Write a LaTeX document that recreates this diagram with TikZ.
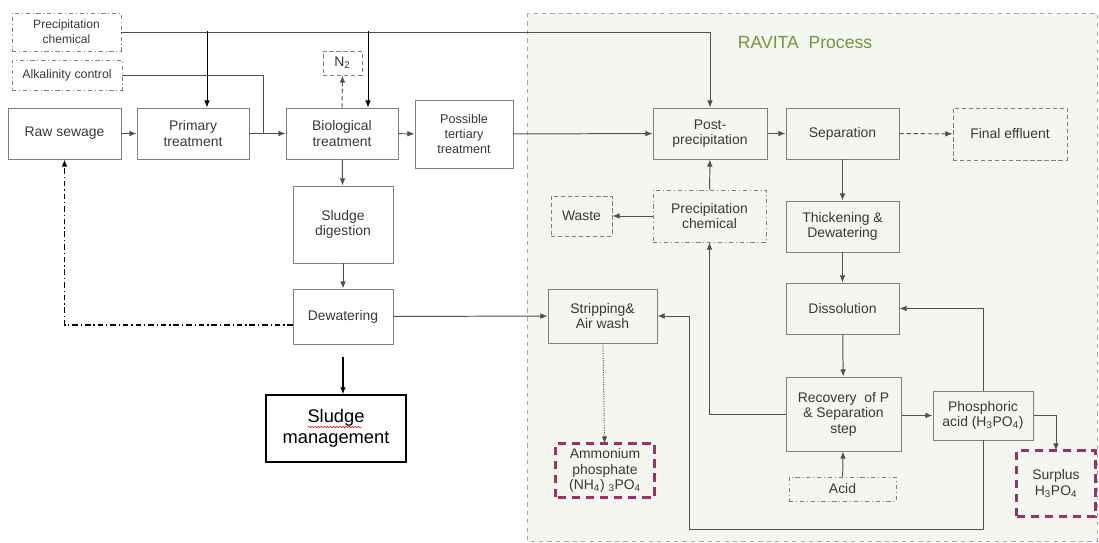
\documentclass[tikz,border=0pt]{standalone}
\usepackage{fontspec}
\setmainfont{Liberation Sans}
\usepackage{tikz}
\usetikzlibrary{arrows.meta,decorations.pathmorphing}

\definecolor{boxgray}{HTML}{7F7F7F}
\definecolor{txtgray}{HTML}{383838}
\definecolor{linegray}{HTML}{505050}
\definecolor{ravfill}{HTML}{F4F6F0}
\definecolor{ravgreen}{HTML}{77933C}
\definecolor{surpurple}{HTML}{993366}

\tikzstyle{box}=[draw=boxgray, line width=0.7pt, text=txtgray, align=center, inner sep=1pt,
  font=\fontsize{9.9}{11}\selectfont]
\tikzstyle{boxdd}=[box, dash dot]
\tikzstyle{boxdash}=[box, densely dashed]
\tikzstyle{product}=[box, draw=none]
\tikzstyle{productline}=[draw=surpurple, line width=1.8pt, dash pattern=on 6pt off 4pt]
\tikzstyle{flow}=[draw=linegray, line width=0.7pt, -{Latex[length=5pt,width=4pt]}]
\tikzstyle{feed}=[draw=linegray, line width=0.7pt]
\tikzstyle{ret}=[flow, draw=black, line width=1.1pt, dash pattern=on 4pt off 2pt on 1pt off 2pt]
% box size in pixel-ish units
\tikzset{wh/.style 2 args={minimum width=#1*0.025cm, minimum height=#2*0.025cm}}

\begin{document}
\begin{tikzpicture}[x=0.025cm, y=-0.025cm]
	\useasboundingbox (0,0) rectangle (1099,543);

	% recovery area
	\draw[dashed, draw=gray!70, fill=ravfill] (527,13) rectangle (1097,541);
	\node[text=ravgreen, font=\fontsize{12.5}{14}\selectfont, anchor=west] (ravita) at (733,43) {RAVITA\ \ Process};

	\begin{scope}
		% treatment line
		\node (pchem) at (66.5,32) [boxdd, wh={109}{38}, font=\fontsize{8.6}{10.5}\selectfont] {Precipitation\\chemical};
		\node (alk) at (67,75) [boxdd, wh={110}{30}, font=\fontsize{8.8}{10}\selectfont] {Alkalinity control};
		\node (raw) at (64.5,133.5) [box, wh={113}{51}] {Raw sewage};
		\node (prim) at (193,133.5) [box, wh={112}{51}] {Primary\\treatment};
		\node (bio) at (342,133.5) [box, wh={112}{51}] {Biological\\treatment};
		\node (n2) at (342.5,63) [boxdash, wh={39}{24}] {N\textsubscript{2}};
		\node (tert) at (464,134) [box, wh={98}{68}, font=\fontsize{9}{10.5}\selectfont] {Possible\\tertiary\\treatment};
		\node (dig) at (343,224.5) [box, wh={100}{77}] {Sludge\\digestion};
		\node (dew) at (343,316.5) [box, wh={100}{55}] {Dewatering};
		\node (sludge) at (336,428.5) [box, draw=black, line width=1pt, text=black, wh={140}{67},
			font=\fontsize{13}{15}\selectfont] {Sludge\\management};
	\end{scope}

	\begin{scope}
		% RAVITA units
		\node (post) at (710,133.5) [box, wh={114}{51}] {Post-\\precipitation};
		\node (sep) at (842.5,133.5) [box, wh={113}{51}] {Separation};
		\node (eff) at (1010,134) [boxdash, wh={114}{52}] {Final effluent};
		\node (pchemr) at (709.5,216) [boxdd, wh={113}{52}] {Precipitation\\chemical};
		\node (waste) at (581.5,216) [boxdash, wh={61}{40}] {Waste};
		\node (thick) at (842.5,226.5) [box, wh={113}{51}] {Thickening \&\\Dewatering};
		\node (diss) at (842.5,308.5) [box, wh={113}{51}] {Dissolution};
		\node (strip) at (602.5,316) [box, wh={109}{54}] {Stripping\&\\Air wash};
		\node (amm) at (605,470.5) [product, wh={98}{53}] {Ammonium\\phosphate\\(NH\textsubscript{4}) \textsubscript{3}PO\textsubscript{4}};
		\node (rec) at (843.5,414) [box, wh={115}{74}] {Recovery\ \ of P\\\& Separation\\step};
		\node (phos) at (983,415.5) [box, wh={100}{49}] {Phosphoric\\acid (H\textsubscript{3}PO\textsubscript{4})};
		\node (acid) at (842.5,489) [boxdd, wh={107}{24}] {Acid};
		\node (surp) at (1056,483.5) [product, wh={78}{65}] {Surplus\\H\textsubscript{3}PO\textsubscript{4}};
		% purple outlines of the products
		\draw [productline] (amm.south west) rectangle (amm.north east);
		\draw [productline] (surp.south west) rectangle (surp.north east);
	\end{scope}

	% spell-check mark under the sludge label
	\draw[red!85!black, line width=0.35pt, decorate, decoration={snake, amplitude=0.5pt, segment length=2.2pt}]
		(308,427) -- (362,427);

	\begin{scope}
		\coordinate (dprim) at (207,31);
		\coordinate (dbio) at (368,31);
		\coordinate (alkj) at (263,133.5);
		\coordinate (dewl) at (293,325);
		\coordinate (loop) at (689,529);

		\draw [flow] (pchem.east) -| (post.north);
		\draw [flow, draw=black] (dprim) -- (dprim |- prim.north);
		\draw [flow, draw=black] (dbio) -- (dbio |- bio.north);
		\draw [feed] (alk.east) -| (alkj);
		\draw [flow] (raw) -- (prim);
		\draw [flow] (prim) -- (bio);
		\draw [flow, densely dashed] (bio.north) -- (n2.south);
		\draw [flow] (bio) -- (tert);
		\draw [flow] (tert) -- (post);
		\draw [flow] (post) -- (sep);
		\draw [flow, densely dashed] (sep) -- (eff);
		\draw [flow] (bio) -- (dig);
		\draw [flow] (dig) -- (dew);
		\draw [ret] (dewl) -| (raw.south);
		\draw [flow] (dew) -- (strip);
		\draw [flow, line width=0.9pt, draw=black, shorten <=0.32cm] (dew.south) -- (dew.south |- sludge.north);
		\draw [flow, densely dotted] (strip) -- (amm);

		\draw [flow] (pchemr) -- (post);
		\draw [flow] (pchemr) -- (waste);
		\draw [flow] (sep) -- (thick);
		\draw [flow] (thick) -- (diss);
		\draw [flow] (diss) -- (rec);
		\draw [flow] (rec.west) -| (pchemr.south);
		\draw [flow] (acid) -- (rec);
		\draw [flow] (rec.east |- phos.west) -- (phos.west);
		\draw [flow] (phos.north) |- (diss.east);
		\draw [flow] (phos.south) |- (loop) |- (strip.east);
		\draw [flow] (phos.east) -| (surp.north);
	\end{scope}
\end{tikzpicture}
\end{document}
